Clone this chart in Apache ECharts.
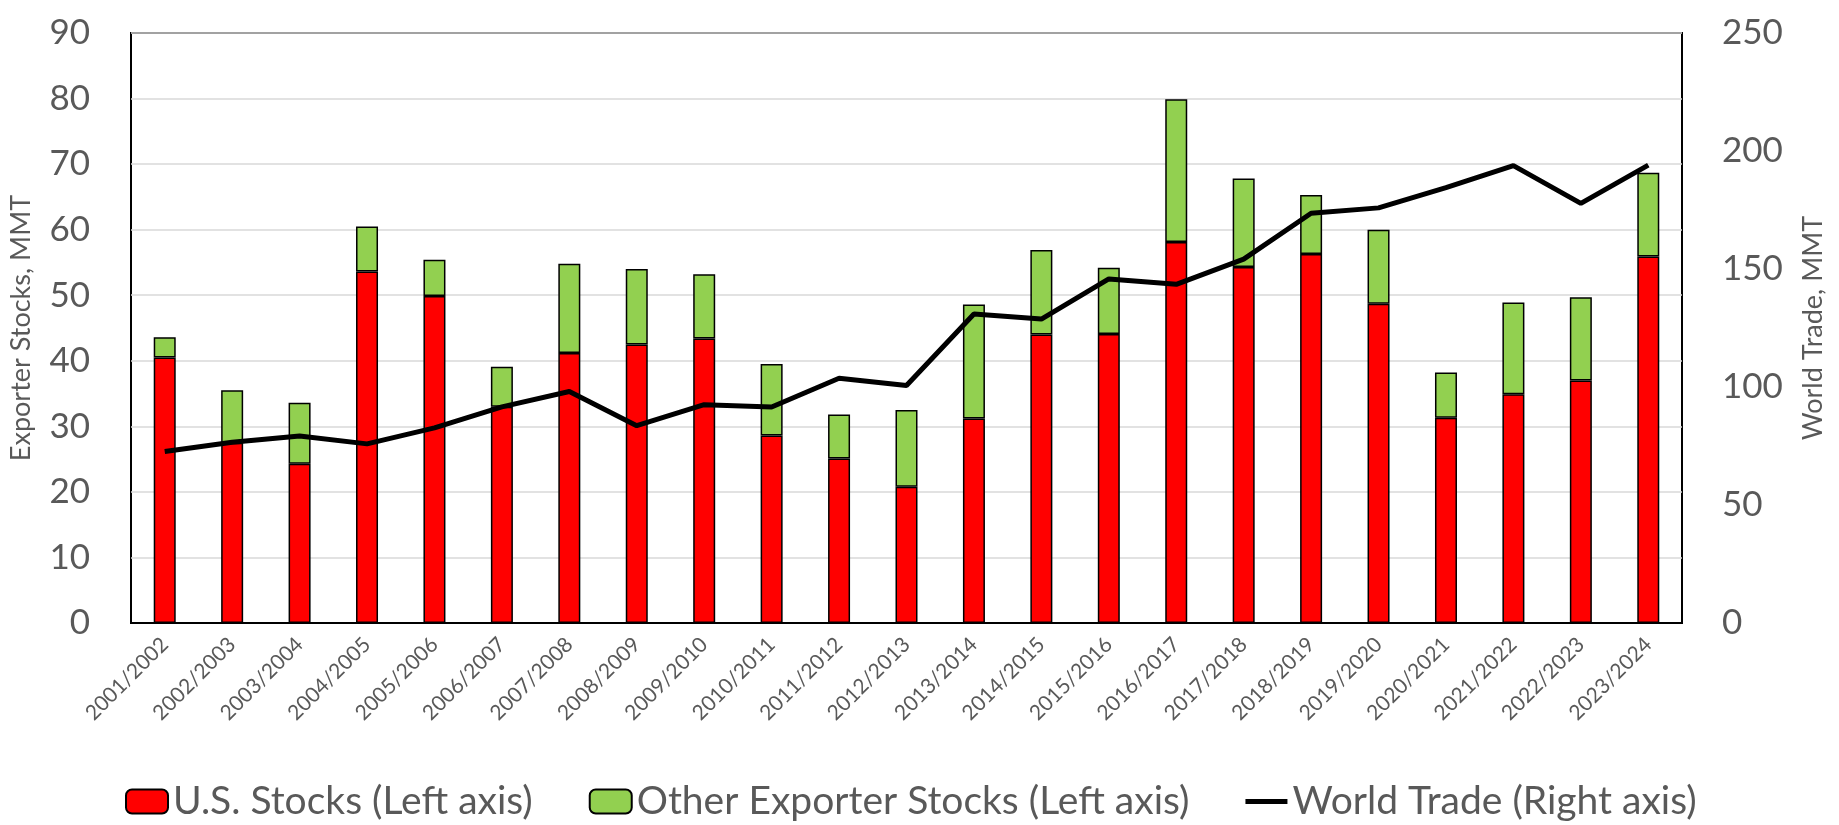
<!DOCTYPE html>
<html>
<head>
<meta charset="utf-8">
<script src="https://cdn.jsdelivr.net/npm/echarts@6/dist/echarts.min.js"></script>
<style>
html,body{margin:0;padding:0;background:#fff;}
#c{width:1839px;height:825px;}
</style>
</head>
<body>
<div id="c"></div>
<script>
const categories = ["2001/2002","2002/2003","2003/2004","2004/2005","2005/2006","2006/2007","2007/2008","2008/2009","2009/2010","2010/2011","2011/2012","2012/2013","2013/2014","2014/2015","2015/2016","2016/2017","2017/2018","2018/2019","2019/2020","2020/2021","2021/2022","2022/2023","2023/2024"];
const usStocks = [40.5,27.5,24.3,53.6,49.9,33.0,41.2,42.5,43.4,28.6,25.1,20.8,31.2,44.0,44.1,58.1,54.3,56.3,48.7,31.3,34.9,37.0,55.9];
const otherStocks = [3.1,8.0,9.3,6.9,5.5,6.1,13.6,11.5,9.8,10.9,6.7,11.7,17.4,12.9,10.1,21.8,13.5,9.0,11.3,6.9,14.0,12.7,12.8];
const worldTrade = [72.7,76.6,79.2,75.9,82.7,91.6,98.1,83.6,92.5,91.5,103.7,100.6,130.9,128.8,145.8,143.5,154.2,173.6,175.9,184.5,193.8,177.8,194.0];
const leftTicks = {min:0,max:90,interval:10};
const rightTicks = {min:0,max:250,interval:50};

const FONT = 'Lato';
const GREY = '#595959';
const chart = echarts.init(document.getElementById('c'), null, {renderer:'canvas'});
chart.setOption({
  animation:false,
  textStyle:{fontFamily:FONT},
  grid:{left:130,right:157,top:33,bottom:202,show:true,borderColor:'#000',borderWidth:2,backgroundColor:'transparent'},
  legend:{
    left:120, top:777, itemWidth:42, itemHeight:24, itemGap:56,
    textStyle:{fontSize:39,color:GREY,fontFamily:FONT},
    data:[
      {name:'U.S. Stocks (Left axis)'},
      {name:'Other Exporter Stocks (Left axis)'},
      {name:'World Trade (Right axis)', icon:'path://M0,0 M0,9.5 L42,9.5 L42,14.5 L0,14.5 Z M42,24', itemStyle:{color:'#000',borderWidth:0}}
    ]
  },
  xAxis:{
    type:'category', data:categories,
    axisLine:{lineStyle:{color:'#000',width:2}},
    axisTick:{show:false},
    axisLabel:{rotate:45,fontSize:21,color:GREY,margin:18,interval:0,fontFamily:FONT}
  },
  yAxis:[
    {type:'value',min:leftTicks.min,max:leftTicks.max,interval:leftTicks.interval,
     name:'Exporter Stocks, MMT',nameLocation:'middle',nameGap:96,
     nameTextStyle:{fontSize:27,color:GREY,fontFamily:FONT},
     axisLine:{show:false},axisTick:{show:false},
     axisLabel:{fontSize:35,color:GREY,margin:41,fontFamily:FONT},
     splitLine:{lineStyle:{color:'#d9d9d9',width:1.5}}},
    {type:'value',min:rightTicks.min,max:rightTicks.max,interval:rightTicks.interval,
     name:'World Trade, MMT',nameLocation:'middle',nameGap:118,
     nameTextStyle:{fontSize:27,color:GREY,fontFamily:FONT},
     axisLine:{show:false},axisTick:{show:false},
     axisLabel:{fontSize:35,color:GREY,margin:40,fontFamily:FONT},
     splitLine:{show:false}}
  ],
  series:[
    {name:'U.S. Stocks (Left axis)',type:'bar',stack:'s',data:usStocks,barWidth:22,
     itemStyle:{color:'#ff0000',borderColor:'#000',borderWidth:1.5}},
    {name:'Other Exporter Stocks (Left axis)',type:'bar',stack:'s',data:otherStocks,barWidth:22,
     itemStyle:{color:'#92d050',borderColor:'#000',borderWidth:1.5}},
    {name:'World Trade (Right axis)',type:'line',yAxisIndex:1,data:worldTrade,
     symbol:'none',z:5,lineStyle:{color:'#000',width:5},itemStyle:{color:'#000'}}
  ]
});
</script>
</body>
</html>
